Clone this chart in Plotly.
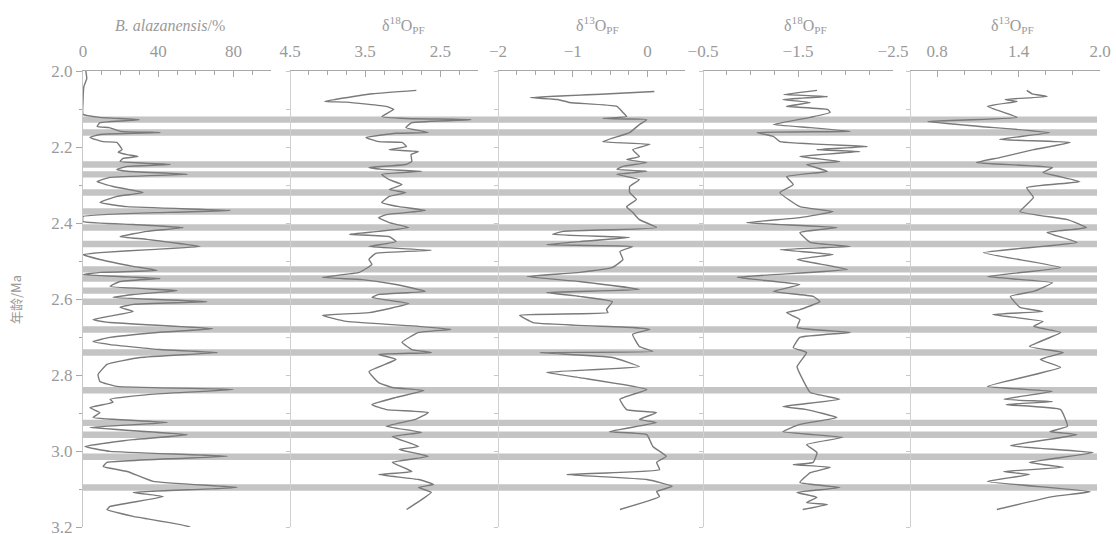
import plotly.graph_objects as go

# ---- Data: age (Ma) and proxy values for each column ----
ba_age = [2.000, 2.020, 2.040, 2.080, 2.114, 2.122, 2.128, 2.136, 2.146, 2.149, 2.159, 2.162, 2.167,
          2.175, 2.186, 2.188, 2.207, 2.214, 2.220, 2.225, 2.230, 2.238, 2.246, 2.251, 2.259, 2.264,
          2.272, 2.280, 2.291, 2.304, 2.320, 2.330, 2.346, 2.357, 2.367, 2.372, 2.383, 2.396, 2.404,
          2.412, 2.422, 2.436, 2.443, 2.462, 2.470, 2.478, 2.483, 2.496, 2.514, 2.525, 2.530, 2.536,
          2.546, 2.554, 2.567, 2.578, 2.588, 2.596, 2.607, 2.614, 2.622, 2.633, 2.654, 2.662, 2.678,
          2.688, 2.701, 2.712, 2.720, 2.733, 2.741, 2.754, 2.772, 2.799, 2.817, 2.830, 2.838, 2.851,
          2.864, 2.872, 2.886, 2.899, 2.912, 2.925, 2.938, 2.957, 2.970, 2.988, 3.001, 3.014, 3.030,
          3.041, 3.054, 3.080, 3.096, 3.109, 3.120, 3.146, 3.154, 3.172, 3.199, 3.207]
ba_pct = [1.5, 2.0, 0.5, 0.0, 0.0, 9.0, 30.0, 9.0, 7.5, 14.0, 20.0, 41.0, 9.0,
          3.7, 10.7, 18.0, 20.8, 18.7, 23.5, 29.3, 21.3, 19.7, 46.4, 23.5, 18.0, 23.5,
          55.5, 14.4, 7.5, 16.0, 32.0, 18.0, 9.0, 23.5, 78.4, 44.8, 0.0, 0.0, 26.7,
          53.3, 34.0, 19.7, 34.0, 62.4, 35.7, 9.0, 0.0, 9.0, 26.7, 39.5, 9.0, 0.0,
          41.0, 19.7, 14.4, 50.0, 26.7, 16.0, 66.0, 26.7, 19.7, 26.7, 5.3, 14.4, 69.0,
          39.5, 14.4, 5.3, 14.4, 41.0, 71.5, 30.4, 12.8, 8.0, 9.0, 18.0, 80.0, 35.7,
          14.4, 16.0, 3.7, 9.0, 5.3, 44.8, 3.7, 55.5, 26.7, 1.0, 14.4, 76.8, 12.8,
          10.7, 23.5, 37.3, 82.0, 26.7, 42.7, 14.4, 12.8, 26.7, 57.0, 34.0]

o18a_age = [2.051, 2.060, 2.075, 2.080, 2.082, 2.093, 2.101, 2.120, 2.125, 2.128, 2.136, 2.149, 2.162,
            2.164, 2.175, 2.186, 2.188, 2.199, 2.207, 2.212, 2.220, 2.238, 2.246, 2.254, 2.259, 2.264,
            2.272, 2.286, 2.299, 2.312, 2.320, 2.330, 2.346, 2.357, 2.367, 2.378, 2.386, 2.399, 2.412,
            2.422, 2.430, 2.436, 2.449, 2.462, 2.472, 2.480, 2.496, 2.509, 2.530, 2.543, 2.549, 2.562,
            2.580, 2.588, 2.596, 2.612, 2.636, 2.643, 2.659, 2.672, 2.680, 2.688, 2.714, 2.733, 2.741,
            2.746, 2.759, 2.791, 2.820, 2.833, 2.841, 2.859, 2.878, 2.891, 2.899, 2.917, 2.935, 2.951,
            2.962, 2.988, 2.996, 3.014, 3.030, 3.054, 3.062, 3.075, 3.088, 3.096, 3.109, 3.128, 3.154]
o18a_val = [2.82, 3.40, 3.90, 4.04, 3.75, 3.22, 3.12, 3.28, 2.96, 2.09, 2.88, 2.96, 2.66,
            3.09, 3.49, 3.32, 3.01, 2.95, 3.18, 2.79, 2.89, 2.88, 2.96, 3.45, 3.28, 2.75,
            3.28, 3.18, 3.01, 3.18, 2.96, 3.18, 3.28, 3.05, 2.70, 3.22, 3.32, 3.18, 2.92,
            3.32, 3.71, 3.18, 3.09, 3.45, 2.62, 3.36, 3.45, 3.41, 3.58, 4.07, 3.54, 3.09,
            2.70, 3.32, 3.41, 2.92, 3.45, 4.07, 3.75, 2.79, 2.36, 2.79, 3.01, 2.88, 2.62,
            3.32, 3.09, 3.45, 3.32, 3.14, 2.72, 3.09, 3.41, 3.22, 2.66, 2.83, 3.22, 2.75,
            3.14, 2.79, 3.05, 2.66, 3.14, 2.88, 3.32, 2.79, 2.59, 2.79, 2.62, 2.75, 2.95]

c13a_age = [2.054, 2.060, 2.070, 2.075, 2.083, 2.093, 2.109, 2.120, 2.125, 2.128, 2.141, 2.162, 2.186,
            2.193, 2.207, 2.225, 2.233, 2.241, 2.251, 2.259, 2.264, 2.272, 2.286, 2.304, 2.320, 2.338,
            2.357, 2.372, 2.391, 2.412, 2.422, 2.430, 2.438, 2.449, 2.457, 2.462, 2.475, 2.496, 2.517,
            2.530, 2.541, 2.554, 2.575, 2.583, 2.593, 2.607, 2.628, 2.636, 2.643, 2.662, 2.675, 2.680,
            2.693, 2.725, 2.738, 2.741, 2.754, 2.778, 2.793, 2.807, 2.838, 2.864, 2.891, 2.899, 2.917,
            2.925, 2.949, 2.957, 2.988, 3.014, 3.030, 3.049, 3.062, 3.075, 3.093, 3.107, 3.120, 3.154]
c13a_val = [0.09, -0.50, -1.57, -1.20, -1.04, -0.41, -0.33, -0.28, -0.60, -0.01, -0.11, -0.24, -0.60,
            0.03, -0.20, -0.11, -0.28, -0.01, -0.33, -0.41, -0.01, -0.41, -0.11, -0.24, -0.24, -0.15,
            -0.28, -0.20, -0.11, 0.12, -1.13, -1.27, -0.24, -0.91, -1.35, -0.20, -0.37, -0.33, -0.47,
            -0.91, -1.61, -0.91, -0.11, -1.35, -0.91, -0.47, -0.55, -0.53, -1.71, -1.53, -0.20, 0.03,
            -0.20, -0.11, 0.07, -1.44, -0.47, -0.11, -1.35, -0.91, -0.01, -0.37, -0.28, 0.12, -0.11,
            0.12, -0.51, -0.01, 0.07, 0.25, 0.12, 0.16, -1.08, -0.01, 0.33, 0.12, 0.16, -0.37]

o18b_age = [2.051, 2.062, 2.067, 2.075, 2.083, 2.093, 2.101, 2.109, 2.122, 2.141, 2.149, 2.159, 2.162,
            2.172, 2.186, 2.199, 2.207, 2.212, 2.225, 2.238, 2.246, 2.264, 2.278, 2.299, 2.320, 2.357,
            2.370, 2.386, 2.399, 2.412, 2.425, 2.451, 2.462, 2.470, 2.483, 2.496, 2.522, 2.543, 2.562,
            2.580, 2.593, 2.607, 2.628, 2.636, 2.654, 2.675, 2.688, 2.701, 2.728, 2.741, 2.778, 2.812,
            2.846, 2.864, 2.883, 2.891, 2.912, 2.930, 2.949, 2.964, 2.983, 3.004, 3.030, 3.036, 3.043,
            3.057, 3.083, 3.096, 3.109, 3.122, 3.136, 3.141, 3.154]
o18b_val = [-1.70, -1.35, -1.81, -1.34, -1.63, -1.38, -1.81, -1.84, -1.63, -1.24, -1.63, -2.05, -1.07,
            -1.24, -1.31, -2.23, -1.70, -2.15, -1.52, -1.94, -1.59, -1.81, -1.38, -1.45, -1.31, -1.52,
            -1.87, -1.52, -0.96, -1.91, -1.52, -1.63, -2.05, -1.31, -1.87, -1.49, -2.02, -0.86, -1.52,
            -1.24, -1.66, -1.73, -1.52, -1.38, -1.52, -1.49, -2.05, -1.52, -1.45, -1.59, -1.49, -1.55,
            -1.63, -1.94, -1.34, -1.59, -1.91, -1.52, -1.34, -1.97, -1.59, -1.70, -1.66, -1.45, -1.84,
            -1.63, -1.52, -1.94, -1.49, -1.70, -1.59, -1.81, -1.55]

c13b_age = [2.051, 2.060, 2.067, 2.075, 2.080, 2.093, 2.122, 2.133, 2.146, 2.162, 2.180, 2.188, 2.207,
            2.228, 2.241, 2.254, 2.267, 2.291, 2.307, 2.333, 2.370, 2.391, 2.412, 2.425, 2.451, 2.478,
            2.517, 2.541, 2.557, 2.580, 2.593, 2.622, 2.633, 2.641, 2.659, 2.672, 2.688, 2.725, 2.741,
            2.759, 2.780, 2.830, 2.843, 2.864, 2.870, 2.878, 2.891, 2.935, 2.949, 2.957, 2.986, 3.004,
            3.030, 3.043, 3.054, 3.062, 3.080, 3.107, 3.120, 3.154]
c13b_val = [1.46, 1.50, 1.61, 1.30, 1.39, 1.17, 1.39, 0.73, 1.12, 1.63, 1.26, 1.78, 1.51,
            1.26, 1.09, 1.65, 1.58, 1.85, 1.46, 1.51, 1.41, 1.76, 1.90, 1.61, 1.83, 1.14,
            1.71, 1.17, 1.65, 1.51, 1.34, 1.41, 1.58, 1.21, 1.58, 1.51, 1.71, 1.48, 1.73,
            1.56, 1.71, 1.17, 1.65, 1.29, 1.65, 1.31, 1.71, 1.76, 1.63, 1.83, 1.34, 1.95,
            1.48, 1.73, 1.29, 1.48, 1.17, 1.93, 1.65, 1.24]

# Correlated intervals (band centres, Ma)
band_ages = [2.128, 2.162, 2.246, 2.272, 2.320, 2.370, 2.412, 2.455, 2.522, 2.546, 2.578, 2.607,
             2.680, 2.741, 2.840, 2.926, 2.957, 3.015, 3.096]
band_half = 0.0085

# Column titles and axis settings
titles = ["<i>B. alazanensis</i>/%", "δ<sup>18</sup>O<sub>PF</sub>", "δ<sup>13</sup>O<sub>PF</sub>",
          "δ<sup>18</sup>O<sub>PF</sub>", "δ<sup>13</sup>O<sub>PF</sub>"]
x_ranges = [[0, 100], [4.5, 2.0], [-2, 0.5], [-0.5, -2.5], [0.6, 2.0]]
tick_vals = [[0, 40, 80], [4.5, 3.5, 2.5], [-2, -1, 0], [-0.5, -1.5, -2.5], [0.8, 1.4, 2.0]]
tick_text = [["0", "40", "80"], ["4.5", "3.5", "2.5"], ["−2", "−1", "0"],
             ["−0.5", "−1.5", "−2.5"], ["0.8", "1.4", "2.0"]]
minor_dt = [10, 0.25, 0.25, 0.25, 0.2]
minor_t0 = [0, 2.0, -2.0, -2.5, 0.6]
age_ticks = [2.0, 2.2, 2.4, 2.6, 2.8, 3.0, 3.2]

series = [(ba_age, ba_pct), (o18a_age, o18a_val), (c13a_age, c13a_val),
          (o18b_age, o18b_val), (c13b_age, c13b_val)]

W, H = 1116, 534
ML, MR, MT, MB = 83, 16, 71, 7
PW = W - ML - MR
PH = H - MT - MB


def px(xp):
    return (xp - ML) / PW


def py(yp):
    return (H - MB - yp) / PH


domains = [[px(83), px(271)], [px(290), px(478)], [px(498), px(685)],
           [px(703), px(893)], [px(910), px(1100)]]
title_x = [170, 403, 597, 805, 1012]

GRAY_TXT = "#9a9a9a"
GRAY_AX = "#a8a8a8"
LINE_C = "#7a7a7a"
SERIF = "Liberation Serif"

fig = go.Figure()

for i, (ages, vals) in enumerate(series):
    k = "" if i == 0 else str(i + 1)
    fig.add_trace(go.Scatter(
        x=vals, y=ages, mode="lines", xaxis="x" + k, yaxis="y" + k,
        line=dict(color=LINE_C, width=1.4, shape="spline", smoothing=0.35),
        showlegend=False, hoverinfo="skip"))

layout = dict(
    width=W, height=H,
    margin=dict(l=ML, r=MR, t=MT, b=MB, autoexpand=False),
    paper_bgcolor="white", plot_bgcolor="white",
    font=dict(family=SERIF, color=GRAY_TXT, size=17),
)

for i in range(5):
    k = "" if i == 0 else str(i + 1)
    layout["xaxis" + k] = dict(
        domain=domains[i], range=x_ranges[i], side="top",
        anchor="y" + k, automargin=False,
        tickmode="array", tickvals=tick_vals[i], ticktext=tick_text[i],
        ticks="inside", ticklen=6, tickcolor=GRAY_AX, tickwidth=1,
        minor=dict(dtick=minor_dt[i], tick0=minor_t0[i], ticks="inside", ticklen=4,
                   tickcolor=GRAY_AX),
        showline=True, linecolor=GRAY_AX, linewidth=1,
        showgrid=False, zeroline=False,
        tickfont=dict(family=SERIF, size=17, color=GRAY_TXT),
        ticklabelstandoff=6,
    )
    ydef = dict(
        range=[3.2, 2.0], domain=[0, 1], automargin=False,
        showgrid=False, zeroline=False,
        showline=True, linecolor="#d0d0d0", linewidth=1,
        ticks="outside", ticklen=4, tickcolor="#c8c8c8",
        dtick=0.1, tick0=2.0,
        showticklabels=False,
    )
    if i == 0:
        ydef.update(
            tickmode="array",
            tickvals=age_ticks,
            ticktext=[f"{v:.1f}" for v in age_ticks],
            showticklabels=True, ticklen=6, tickcolor=GRAY_AX,
            minor=dict(dtick=0.1, tick0=2.0, ticks="outside", ticklen=3, tickcolor=GRAY_AX),
            tickfont=dict(family=SERIF, size=17, color=GRAY_TXT),
            linecolor="#c8c8c8",
            ticklabeloverflow="allow",
        )
    else:
        ydef.update(overlaying="y", anchor="free", position=domains[i][0], matches="y")
    layout["yaxis" + k] = ydef

fig.update_layout(**layout)

# Horizontal correlation bands across all columns
for a in band_ages:
    fig.add_shape(type="rect", xref="paper", yref="y",
                  x0=0, x1=px(1097), y0=a - band_half, y1=a + band_half,
                  fillcolor="#bababa", opacity=0.85, line=dict(width=0), layer="below")

# Column titles
for i, t in enumerate(titles):
    fig.add_annotation(text=t, x=px(title_x[i]), y=py(25), xref="paper", yref="paper",
                       showarrow=False, xanchor="center", yanchor="middle",
                       font=dict(family=SERIF, size=16, color=GRAY_TXT))

# Vertical axis title
fig.add_annotation(text="年龄/Ma", x=px(15), y=py(300), xref="paper", yref="paper",
                   showarrow=False, textangle=-90, xanchor="center", yanchor="middle",
                   font=dict(family="Noto Sans CJK SC", size=13, color=GRAY_TXT))

fig.write_html("out.html")
